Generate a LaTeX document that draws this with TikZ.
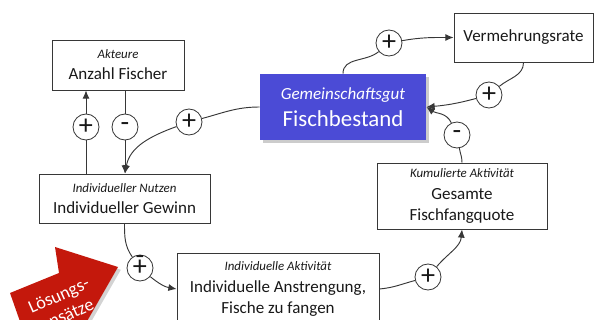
\documentclass[tikz,border=0pt]{standalone}
\usepackage{fontspec}
\setmainfont{Carlito}
\usepackage{xcolor}
\usetikzlibrary{shapes.geometric, arrows, arrows.meta, positioning, calc, shadows}

\definecolor{stockblue}{RGB}{75,75,214}
\definecolor{hintred}{RGB}{196,24,12}
\definecolor{edgegray}{RGB}{55,55,55}
\newcommand{\roletext}[1]{{\fontsize{11}{13}\selectfont\itshape #1}}

\begin{document}
\begin{tikzpicture}[x=0.03cm, y=0.03cm, >={Latex[length=7pt, width=6pt]},
    box/.style={draw=edgegray, line width=0.75pt, fill=white, align=center, inner sep=2pt,
        text=black!90, font=\fontsize{14.5}{18}\selectfont},
    sign/.style={circle, draw=edgegray, line width=0.7pt, fill=white, minimum size=0.78cm,
        inner sep=0pt, text=black!90, font=\fontsize{24}{24}\selectfont},
    link/.style={draw=edgegray, line width=0.8pt}]
\useasboundingbox (0,0) rectangle (594,-320);

% Solution hint arrow
\begin{scope}
    \clip (0,0) rectangle (594,-320);
    \fill[hintred, drop shadow={opacity=0.35}] (118,-267) -- (55,-247) -- (59,-273) -- (10,-293) -- (23,-330) -- (82,-330) -- cycle;
    \node[rotate=24, text=white, align=center, font=\fontsize{15.5}{18}\selectfont] (hint) at (63,-305) {Lösungs-\\ansätze};
\end{scope}

% Boxes
\node[box, minimum width=3.96cm, minimum height=1.5cm] (akteure) at (118,-65) {\roletext{Akteure}\\Anzahl Fischer};
\node[box, draw=none, fill=stockblue, text=white, drop shadow={opacity=0.4}, minimum width=4.98cm, minimum height=1.98cm,
    font=\fontsize{19.5}{23}\selectfont] (bestand) at (343,-107) {{\fontsize{14.5}{17}\selectfont\itshape Gemeinschaftsgut}\\Fischbestand};
\node[box, minimum width=4.17cm, minimum height=1.47cm] (vermehrung) at (523.5,-37.5) {Vermehrungsrate};
\node[box, minimum width=5.13cm, minimum height=1.47cm] (gewinn) at (124.5,-198.5) {\roletext{Individueller Nutzen}\\Individueller Gewinn};
\node[box, minimum width=5.1cm, minimum height=1.98cm] (quote) at (462,-196) {\roletext{Kumulierte Aktivität}\\Gesamte\\Fischfangquote};
\node[box, minimum width=6.06cm, minimum height=2.16cm] (anstrengung) at (278,-289) {\roletext{Individuelle Aktivität}\\Individuelle Anstrengung,\\Fische zu fangen};

% Polarity circles
\foreach \n/\x/\y/\s in {s1/86/-127/+, s2/125/-127/-, s3/189/-122/+, s4/389/-43/+, s5/489/-95/+, s6/457/-135/-, s7/140/-268/+, s8/428/-277/+}
    \node[sign] (\n) at (\x,\y) {\s};

% Links
\draw[link] (gewinn.north -| s1) -- (s1);
\draw[link, ->] (s1) -- (akteure.south -| s1);
\draw[link] (akteure.south -| s2) -- (s2);
\draw[link, ->] (s2) -- (gewinn.north -| s2);
\draw[link] (bestand.west) to[out=180, in=15] (s3);
\draw[link, ->] (s3) to[out=200, in=80] (gewinn.north -| s2);
\draw[link] (bestand.north) to[out=90, in=220] (s4);
\draw[link, ->] (s4) to[out=10, in=180] (vermehrung.west);
\draw[link] (vermehrung.south) to[out=-90, in=40] (s5);
\draw[link, ->] (s5) to[out=195, in=5] (bestand.east);
\draw[link] (quote.north) to[out=90, in=-80] (s6);
\draw[link, ->] (s6) to[out=115, in=-35] (bestand.east);
\draw[link] (gewinn.south) to[out=-90, in=125] (s7);
\draw[link, ->] (s7) to[out=-40, in=170] (anstrengung.west);
\draw[link] (anstrengung.east) to[out=5, in=195] (s8);
\draw[link, ->] (s8) to[out=50, in=-95] (quote.south);

% Second sign in the lower circle
\node[font=\fontsize{24}{24}\selectfont, text=black!90, inner sep=0pt] (s7minus) at ([yshift=0.25cm]s7.center) {-};
\end{tikzpicture}
\end{document}
